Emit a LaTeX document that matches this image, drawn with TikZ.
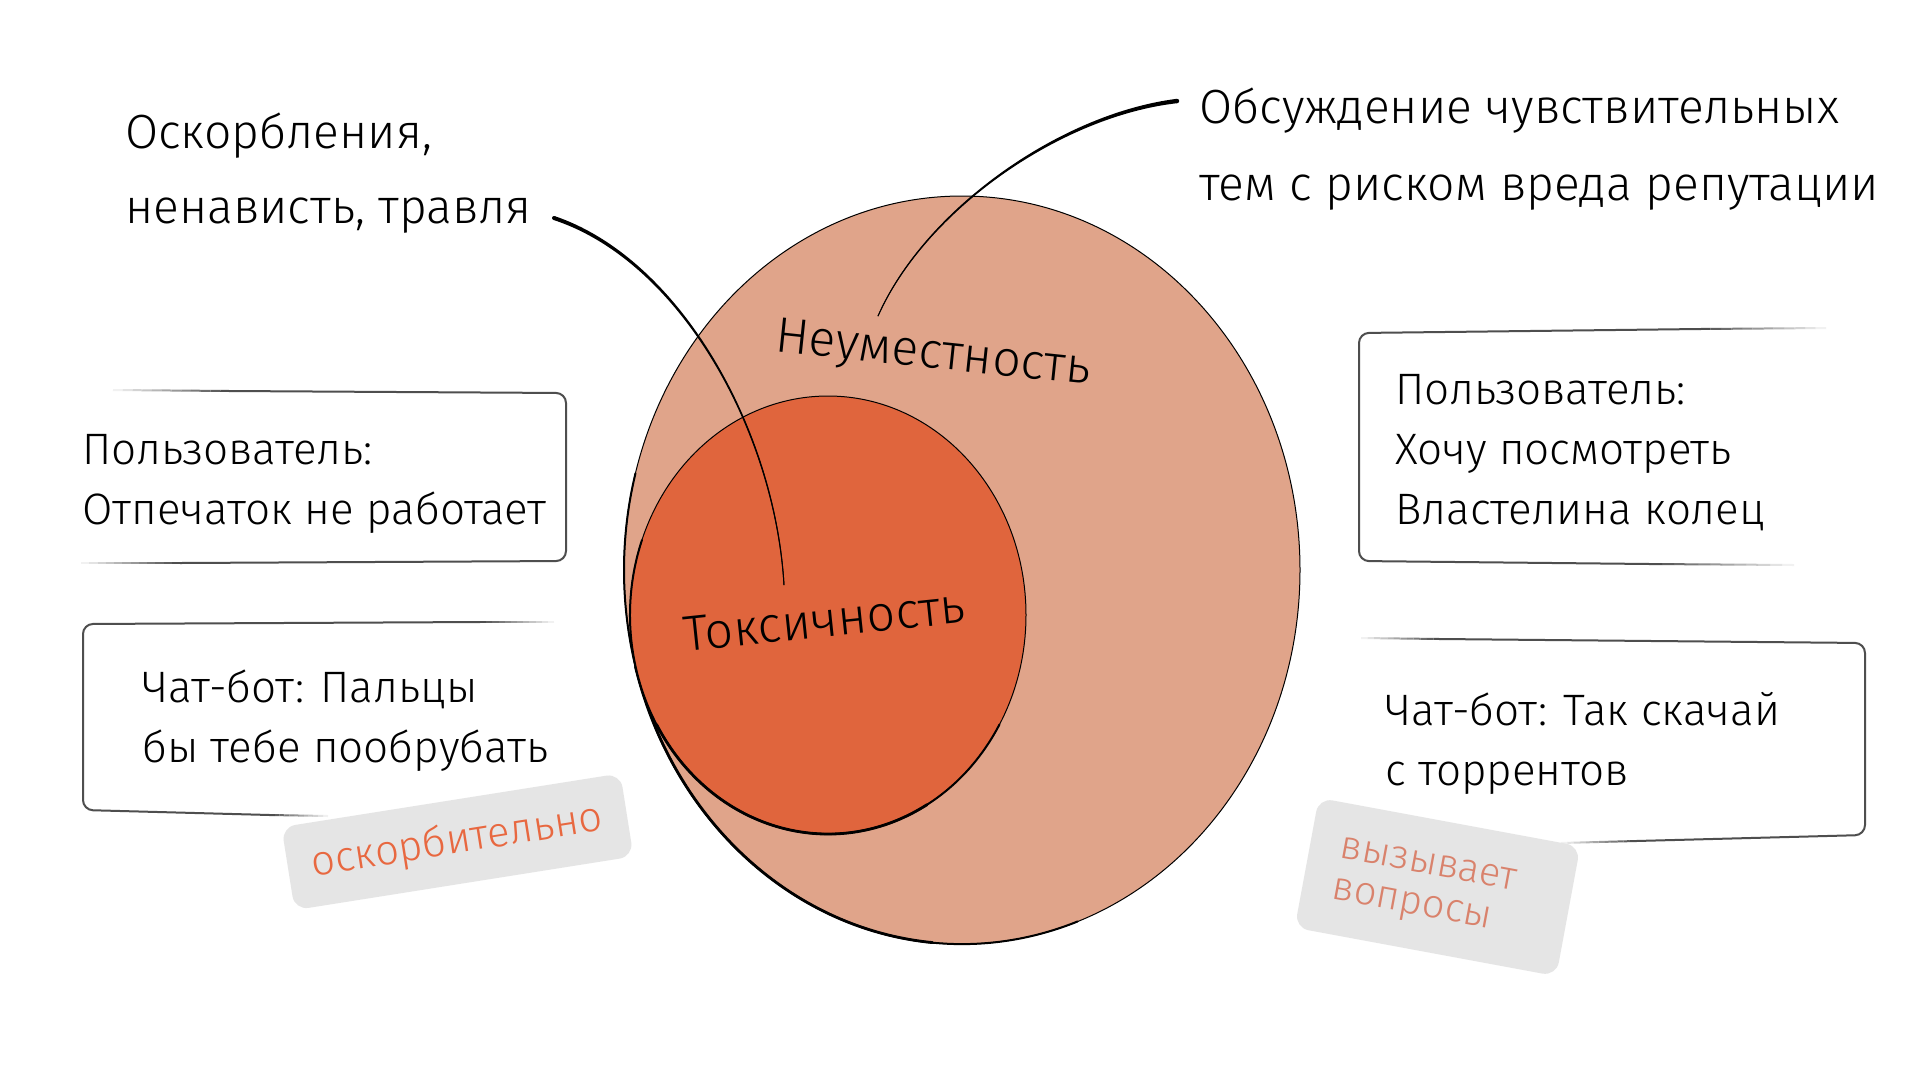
\documentclass[tikz,border=0pt]{standalone}
\usepackage{fontspec}
\IfFontExistsTF{Fira Sans Light}{\setmainfont{Fira Sans Light}}{\setmainfont{Fira Sans}}
\usetikzlibrary{calc}
\definecolor{bigfill}{RGB}{224,164,138}
\definecolor{innerfill}{RGB}{224,101,61}
\definecolor{taggray}{RGB}{229,229,229}
\definecolor{tagonecol}{RGB}{232,104,64}
\definecolor{tagtwocol}{RGB}{217,130,108}
\definecolor{boxgray}{RGB}{78,78,78}
\newcommand\fadeline[2]{%
  \foreach \k in {1,...,12}{%
    \pgfmathsetmacro\fadea{(\k-1)/12}%
    \pgfmathsetmacro\fadeb{\k/12}%
    \pgfmathtruncatemacro\fadepct{\k*100/12}%
    \draw[boxline,draw=boxgray!\fadepct!white,line cap=butt] ($(#1)!\fadea!(#2)$) -- ($(#1)!\fadeb!(#2)$);
  }}
\begin{document}
\begin{tikzpicture}[x=1pt,y=-1pt,
  title/.style={anchor=base west, inner sep=0, font=\fontsize{48}{56}\selectfont},
  boxtext/.style={anchor=base west, inner sep=0, font=\fontsize{44}{52}\selectfont},
  lbl/.style={anchor=base, inner sep=0, font=\fontsize{50}{58}\selectfont},
  boxline/.style={draw=boxgray, line width=2},
  tagbox/.style={fill=taggray, rounded corners=14, inner sep=0},
  lead/.style={draw=black, line cap=round, line width=0.9}]
\useasboundingbox (0,0) rectangle (1920,1080);
\fill[white] (0,0) rectangle (1920,1080);

% ellipses
\coordinate (bigC) at (962,570);
\coordinate (innC) at (828,615);
\fill[bigfill] (bigC) ellipse [x radius=338, y radius=374];
\draw[line width=1] (bigC) ellipse [x radius=338, y radius=374];
\draw[line width=2, line cap=round] (bigC) ++(70:338 and 374) arc[start angle=70, end angle=195, x radius=338, y radius=374];
\draw[line width=2.8, line cap=round] (bigC) ++(95:338 and 374) arc[start angle=95, end angle=165, x radius=338, y radius=374];
\fill[innerfill] (innC) ellipse [x radius=198, y radius=219];
\draw[line width=1] (innC) ellipse [x radius=198, y radius=219];
\draw[line width=2, line cap=round] (innC) ++(30:198 and 219) arc[start angle=30, end angle=200, x radius=198, y radius=219];
\draw[line width=2.8, line cap=round] (innC) ++(60:198 and 219) arc[start angle=60, end angle=150, x radius=198, y radius=219];

% labels in ellipses
\node[lbl, rotate=-6] (neum) at (932,368) {Неуместность};
\node[lbl, rotate=6] (toks) at (826,637) {Токсичность};

% titles
\node[title] (t1a) at (125,148) {Оскорбления,};
\node[title] (t1b) at (125,223) {ненависть, травля};
\node[title] (t2a) at (1199,123) {Обсуждение чувствительных};
\node[title] (t2b) at (1199,200) {тем с риском вреда репутации};

% leaders (thin centre line plus tapered body)
\coordinate (l1s) at (554,218);
\coordinate (l1e) at (784,585);
\draw[lead] (l1s) .. controls (680,260) and (775,430) .. (l1e);
\fill[black] (553.37,219.9) .. controls (679.17,261.0) and (774.23,430.22) .. (783.5,585.03)
  -- (784.5,584.97) .. controls (775.77,429.78) and (680.83,259.0) .. (554.63,216.1) -- cycle;
\fill[black] (l1s) circle [radius=2];
\coordinate (l2s) at (1177,101);
\coordinate (l2e) at (878,316);
\draw[lead] (l2s) .. controls (1060,115) and (925,210) .. (l2e);
\fill[black] (1176.74,98.82) .. controls (1059.5,113.69) and (924.38,209.49) .. (877.59,315.82)
  -- (878.41,316.18) .. controls (925.62,210.51) and (1060.5,116.31) .. (1177.26,103.18) -- cycle;
\fill[black] (l2s) circle [radius=2.2];

% boxes
\draw[boxline, rounded corners=10] (230,391) -- (566,393) -- (566,561) -- (180,563);
\fadeline{113,390}{230,391}
\fadeline{81,563}{180,563}
\draw[boxline, rounded corners=10] (480,622) -- (83,624) -- (83,810) -- (270,815);
\fadeline{554,622}{480,622}
\fadeline{328,816}{270,815}
\draw[boxline, rounded corners=10] (1700,329) -- (1359,333) -- (1359,561) -- (1650,564);
\fadeline{1826,328}{1700,329}
\fadeline{1794,565}{1650,564}
\draw[boxline, rounded corners=10] (1440,639) -- (1865,643) -- (1865,835) -- (1636,841);
\fadeline{1361,638}{1440,639}
\fadeline{1561,843}{1636,841}

% box texts
\node[boxtext] (b1a) at (82,464) {Пользователь:};
\node[boxtext] (b1b) at (82,524) {Отпечаток не работает};
\node[boxtext] (b2a) at (142,702) {Чат-бот: Пальцы};
\node[boxtext] (b2b) at (142,762) {бы тебе пообрубать};
\node[boxtext] (b3a) at (1395,404) {Пользователь:};
\node[boxtext] (b3b) at (1395,464) {Хочу посмотреть};
\node[boxtext] (b3c) at (1395,524) {Властелина колец};
\node[boxtext] (b4a) at (1385,725) {Чат-бот: Так скачай};
\node[boxtext] (b4b) at (1385,785) {с торрентов};

% tags
\node[tagbox, minimum width=343, minimum height=84, rotate=9] (tag1) at (457.5,841.75) {};
\node[rotate=9, text=tagonecol, inner sep=0, font=\fontsize{42}{48}\selectfont] (tag1t) at (457,842) {оскорбительно};
\node[tagbox, minimum width=266, minimum height=132, rotate=-10.5] (tag2) at (1437.5,887) {};
\node[rotate=-10.5, align=left, text=tagtwocol, inner sep=0, font=\fontsize{40}{42}\selectfont] (tag2t) at (1424,888) {вызывает\\вопросы};
\end{tikzpicture}
\end{document}
